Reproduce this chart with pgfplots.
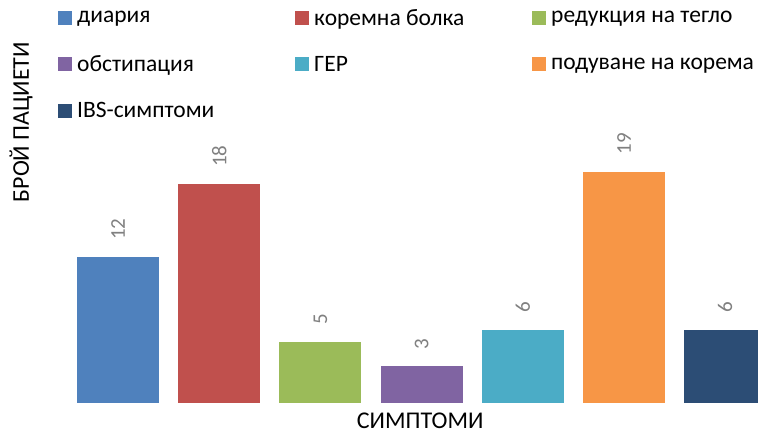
\documentclass[border=0pt]{standalone}
\usepackage{pgfplots}
\pgfplotsset{compat=1.18}
\usepackage{fontspec}
\setmainfont{Carlito}
\definecolor{c1}{HTML}{4F81BD}
\definecolor{c2}{HTML}{C0504D}
\definecolor{c3}{HTML}{9BBB59}
\definecolor{c4}{HTML}{8064A2}
\definecolor{c5}{HTML}{4BACC6}
\definecolor{c6}{HTML}{F79646}
\definecolor{c7}{HTML}{2C4D75}
\definecolor{lbl}{HTML}{808080}
\newcommand{\legtxt}[1]{\makebox[219pt][l]{\hspace{3pt}#1}}
\begin{document}
\begin{tikzpicture}[x=1pt,y=1pt]
\path[use as bounding box] (0,0) rectangle (758,432);
\begin{axis}[
  at={(67.4pt,29pt)}, anchor=south west,
  scale only axis, width=708.4pt, height=243.4pt,
  xmin=-0.5, xmax=6.5, ymin=0, ymax=20,
  axis line style={draw=none}, ticks=none,
  clip=false,
  ybar, bar width=0.81, bar shift=0pt,
  /pgf/number format/assume math mode=true,
  nodes near coords,
  every node near coord/.append style={rotate=90, anchor=west, inner sep=0pt, xshift=17pt, font=\fontsize{21}{24}\selectfont, text=lbl},
  xlabel={СИМПТОМИ},
  ylabel={БРОЙ ПАЦИЕТИ},
  label style={font=\fontsize{24}{28}\selectfont},
  xlabel style={at={(axis description cs:0.498,-0.074)}, anchor=center, inner sep=0pt},
  ylabel style={at={(axis description cs:-0.0655,1.154)}, anchor=center},
  legend columns=3,
  legend image code/.code={\fill[#1] (0pt,-7pt) rectangle (14pt,7pt);},
  legend style={draw=none, fill=none, at={(axis description cs:-0.0175,1.635)}, anchor=north west,
    font=\fontsize{23.5}{28}\selectfont, row sep=25pt, column sep=0pt,
    /tikz/every odd column/.style={column sep=0pt}},
  legend cell align=left,
]
\addplot[fill=c1, draw=none] coordinates {(0,12)};
\addlegendentry{\legtxt{диария}}
\addplot[fill=c2, draw=none] coordinates {(1,18)};
\addlegendentry{\legtxt{коремна болка}}
\addplot[fill=c3, draw=none] coordinates {(2,5)};
\addlegendentry{\legtxt{редукция на тегло}}
\addplot[fill=c4, draw=none] coordinates {(3,3)};
\addlegendentry{\legtxt{обстипация}}
\addplot[fill=c5, draw=none] coordinates {(4,6)};
\addlegendentry{\legtxt{ГЕР}}
\addplot[fill=c6, draw=none] coordinates {(5,19)};
\addlegendentry{\legtxt{подуване на корема}}
\addplot[fill=c7, draw=none] coordinates {(6,6)};
\addlegendentry{\legtxt{IBS-симптоми}}
\end{axis}
\end{tikzpicture}
\end{document}
